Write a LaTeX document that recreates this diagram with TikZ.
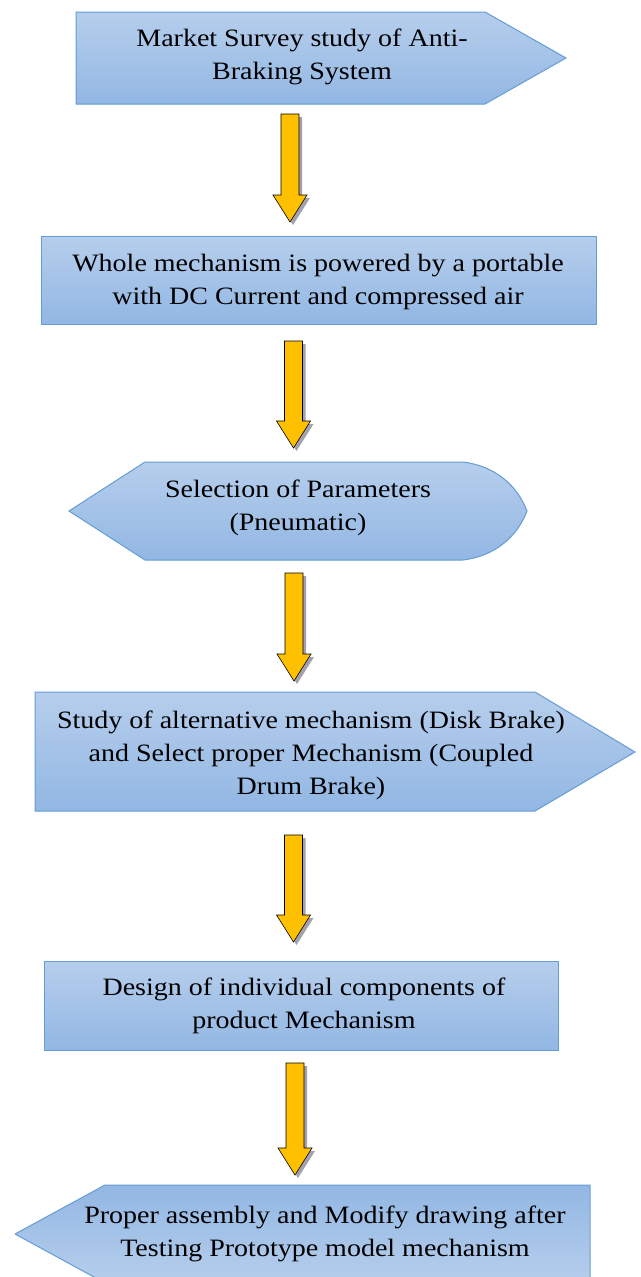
\documentclass[tikz,border=0pt]{standalone}
\usepackage{fontspec}
\setmainfont[FakeStretch=1.12]{Liberation Serif}
\usetikzlibrary{calc}
\definecolor{boxtop}{RGB}{182,206,236}
\definecolor{boxbot}{RGB}{146,183,227}
\definecolor{boxline}{RGB}{100,156,214}
\definecolor{arrfill}{RGB}{255,192,0}
\definecolor{arrshad}{RGB}{130,130,150}
\tikzset{
  boxshade/.style={top color=boxtop, bottom color=boxbot},
  boxshadeflip/.style={top color=boxbot, bottom color=boxtop},
  boxedge/.style={draw=boxline, line width=1pt},
  label/.style={align=center, font=\fontsize{25}{33}\selectfont, text=black, inner sep=0pt},
  arrbody/.style={fill=arrfill, draw=black, line width=0.6pt, line join=miter},
  arrshadow/.style={fill=arrshad, opacity=0.75}
}
\newcommand\blockarrow[3]{%
  \fill[arrshadow, shift={(3,3)}] (#1-9,#2) -- (#1+9,#2) -- (#1+9,#3-27) -- (#1+17,#3-27) -- (#1,#3) -- (#1-17,#3-27) -- (#1-9,#3-27) -- cycle;
  \draw[arrbody] (#1-9,#2) -- (#1+9,#2) -- (#1+9,#3-27) -- (#1+17,#3-27) -- (#1,#3) -- (#1-17,#3-27) -- (#1-9,#3-27) -- cycle;
}
\begin{document}
\begin{tikzpicture}[x=1pt,y=-1pt]
\clip (0,0) rectangle (640,1277);
\fill[white] (0,0) rectangle (640,1277);
% Box 1
\shade[boxshade] (76,12) -- (485,12) -- (566,58) -- (485,104) -- (76,104) -- cycle;
\draw[boxedge] (76,12) -- (485,12) -- (566,58) -- (485,104) -- (76,104) -- cycle;
\node[label] (t1) at (302,57) {Market Survey study of Anti-\\Braking System};
% Box 2
\shade[boxshade] (41,236) rectangle (596,324);
\draw[boxedge] (41,236) rectangle (596,324);
\node[label] (t2) at (318,282) {Whole mechanism is powered by a portable\\with DC Current and compressed air};
% Box 3
\shade[boxshade] (69,511) -- (145,462) -- (463,462) .. controls (495,466) and (517,485) .. (527,511) .. controls (517,537) and (495,556) .. (463,560) -- (145,560) -- cycle;
\draw[boxedge] (69,511) -- (145,462) -- (463,462) .. controls (495,466) and (517,485) .. (527,511) .. controls (517,537) and (495,556) .. (463,560) -- (145,560) -- cycle;
\node[label] (t3) at (298,508) {Selection of Parameters\\(Pneumatic)};
% Box 4
\shade[boxshade] (35,692) -- (535,692) -- (635,752) -- (535,811) -- (35,811) -- cycle;
\draw[boxedge] (35,692) -- (535,692) -- (635,752) -- (535,811) -- (35,811) -- cycle;
\node[label] (t4) at (311,755) {Study of alternative mechanism (Disk Brake)\\and Select proper Mechanism (Coupled\\Drum Brake)};
% Box 5
\shade[boxshade] (44,961) rectangle (558,1050);
\draw[boxedge] (44,961) rectangle (558,1050);
\node[label] (t5) at (304,1006) {Design of individual components of\\product Mechanism};
% Box 6
\shade[boxshadeflip] (15,1234) -- (105,1185) -- (590,1185) -- (590,1283) -- (105,1283) -- cycle;
\draw[boxedge] (15,1234) -- (105,1185) -- (590,1185) -- (590,1290) (15,1234) -- (105,1283);
\node[label] (t6) at (325,1234) {Proper assembly and Modify drawing after\\Testing Prototype model mechanism};
% Arrows
\blockarrow{290}{114}{222}
\blockarrow{293.5}{341}{448}
\blockarrow{294}{573}{681}
\blockarrow{293.5}{835}{942}
\blockarrow{295}{1063}{1175}
\end{tikzpicture}
\end{document}
